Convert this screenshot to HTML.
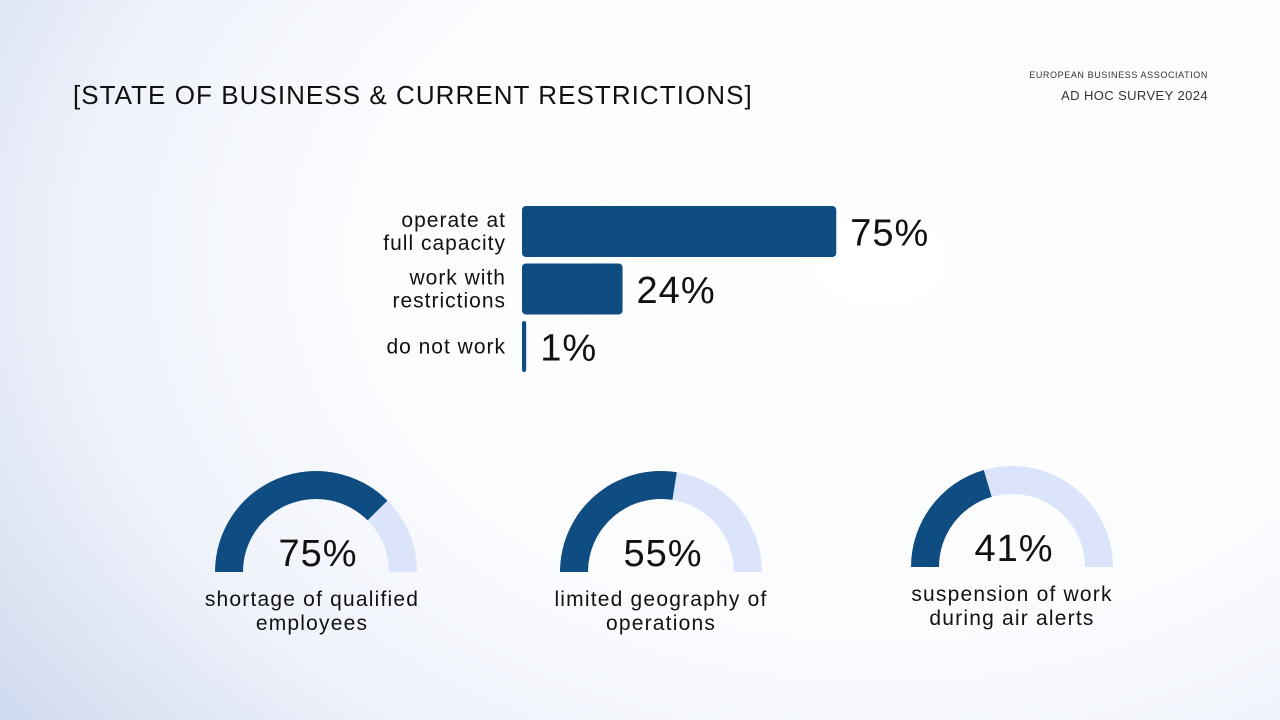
<!DOCTYPE html>
<html><head><meta charset="utf-8"><style>
html,body{margin:0;padding:0}
body{width:1280px;height:720px;position:relative;overflow:hidden;font-family:"Liberation Sans",sans-serif;color:#111;
background:radial-gradient(ellipse 1150px 820px at 880px 260px,#ffffff 0%,#fbfcfe 45%,#eef2fa 70%,#c9d4ec 100%);}
.t{position:absolute;white-space:nowrap}
</style></head><body>
<div class="t" style="left:73px;top:80px;font-size:26px;letter-spacing:1.05px;color:#111">[STATE OF BUSINESS &amp; CURRENT RESTRICTIONS]</div>
<div class="t" style="right:72px;top:70px;font-size:9px;letter-spacing:0.6px;color:#333">EUROPEAN BUSINESS ASSOCIATION</div>
<div class="t" style="right:72px;top:88px;font-size:13px;letter-spacing:0.4px;color:#333">AD HOC SURVEY 2024</div>
<svg id="chart" width="1280" height="720" style="position:absolute;left:0;top:0"></svg>
<script>
const barLabels=[["operate at","full capacity"],["work with","restrictions"],["do not work"]];
const barValues=[75,24,1];
const gaugeValues=[75,55,41];
const gaugeLabels=[["shortage of qualified","employees"],["limited geography of","operations"],["suspension of work","during air alerts"]];
const NS="http://www.w3.org/2000/svg";
const svg=document.getElementById('chart');
function mk(t,a){const e=document.createElementNS(NS,t);for(const k in a)e.setAttribute(k,a[k]);svg.appendChild(e);return e;}
const x0=522,pxPer=4.19,barTop=206,barH=51,barStep=57.5;
const xs=v=>v*pxPer;
barValues.forEach((v,i)=>{
  const y=barTop+i*barStep,w=Math.max(xs(v),3);
  const r=mk('rect',{x:x0,y:y,width:w,height:barH,rx:Math.min(4,w/2),fill:'#0f4c81'});
  
  
  const t=mk('text',{x:x0+w+14,y:y+barH/2+14,'font-size':38,'letter-spacing':1,fill:'#111','font-family':'Liberation Sans, sans-serif'});
  t.textContent=v+'%';
  
  
  const lines=barLabels[i];
  lines.forEach((ln,j)=>{
    const ty=y+barH/2+7+(j-(lines.length-1)/2)*23;
    const l=mk('text',{x:506,y:ty,'text-anchor':'end','font-size':21,'letter-spacing':1,fill:'#111','font-family':'Liberation Sans, sans-serif'});
    l.textContent=ln;
    
    
  });
});
const gcx=[316,661,1012],gcy=[572,572,567],R=101,r0=73;
function arc(cx,cy,a1,a2){
  const p=(a,rr)=>[cx-rr*Math.cos(a),cy-rr*Math.sin(a)];
  const [x1,y1]=p(a1,R),[x2,y2]=p(a2,R),[x3,y3]=p(a2,r0),[x4,y4]=p(a1,r0);
  const lg=(a2-a1)>Math.PI?1:0;
  return `M${x1},${y1} A${R},${R} 0 ${lg} 1 ${x2},${y2} L${x3},${y3} A${r0},${r0} 0 ${lg} 0 ${x4},${y4}Z`;
}
gaugeValues.forEach((v,i)=>{
  const cx=gcx[i],cy=gcy[i],a=Math.PI*v/100;
  const bg=mk('path',{d:arc(cx,cy,a,Math.PI),fill:'#dbe4fa'});
  
  
  const fg=mk('path',{d:arc(cx,cy,0,a),fill:'#0f4c81'});
  
  
  const t=mk('text',{x:cx+2,y:cy-6,'text-anchor':'middle','font-size':38,'letter-spacing':1,fill:'#111','font-family':'Liberation Sans, sans-serif'});
  t.textContent=v+'%';
  
  
  gaugeLabels[i].forEach((ln,j)=>{
    const l=mk('text',{x:cx+(i==0?-4:0),y:cy+34+j*24,'text-anchor':'middle','font-size':21,'letter-spacing':1.2,fill:'#111','font-family':'Liberation Sans, sans-serif'});
    l.textContent=ln;
    
    
  });
});
</script>
</body></html>
